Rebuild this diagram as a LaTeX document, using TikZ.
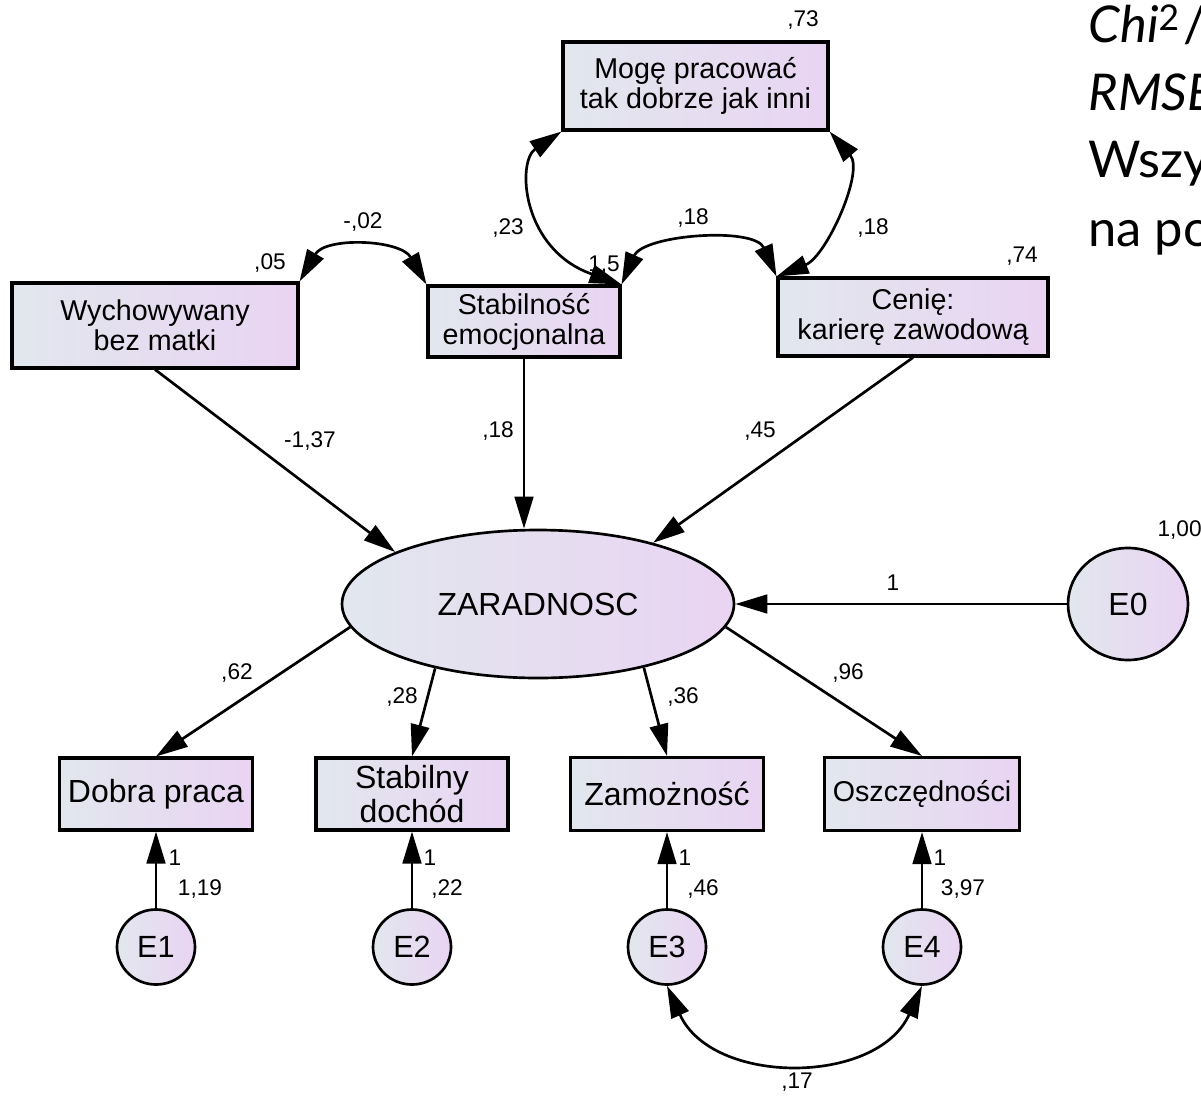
\documentclass[tikz,border=0pt]{standalone}
\usepackage{fontspec}
\setmainfont{Liberation Sans}
\newfontfamily\notefont{Lato}
\usetikzlibrary{shapes.geometric,arrows.meta}

\definecolor{shadeL}{RGB}{226,231,238}
\definecolor{shadeR}{RGB}{233,212,242}

\tikzset{every picture/.style={line width=0.75pt}}
\tikzset{
  obs/.style={draw, line width=2.3pt, rectangle, inner sep=0pt, left color=shadeL, right color=shadeR, align=center, font=\fontsize{21.5}{22.5}\selectfont},
  lat/.style={draw, line width=2pt, ellipse, inner sep=0pt, left color=shadeL, right color=shadeR, font=\fontsize{23}{23}\selectfont},
  num/.style={inner sep=0pt, font=\fontsize{17}{17}\selectfont},
  note/.style={anchor=base west, inner sep=0pt, font=\notefont\fontsize{38}{38}\selectfont},
  reg/.style={line width=2pt, -{Triangle[length=24pt,width=14pt]}},
  cov/.style={line width=2pt, {Triangle[length=24pt,width=14pt]}-{Triangle[length=24pt,width=14pt]}}
}

\begin{document}
\begin{tikzpicture}[x=0.75pt,y=0.75pt,yscale=-1,xscale=1]
\useasboundingbox (0,0) rectangle (1201,1095);
\clip (0,0) rectangle (1201,1095);

%Shape: Rectangle [top row]
\node[obs, minimum width=198.75pt, minimum height=66pt] (moge) at (695.5,86) {Mogę pracować\\tak dobrze jak inni};
\node[obs, minimum width=214.5pt, minimum height=63.75pt] (wych) at (155,325.5) {Wychowywany\\bez matki};
\node[obs, minimum width=144pt, minimum height=53.25pt] (stab) at (524,321.5) {Stabilność\\emocjonalna};
\node[obs, minimum width=202.5pt, minimum height=58.5pt] (cen) at (913,317) {Cenię:\\karierę zawodową};

%Shape: Ellipse [latent + disturbance]
\node[lat, minimum width=294pt, minimum height=111pt, font=\fontsize{24}{24}\selectfont] (zar) at (538,604) {ZARADNOSC};
\node[lat, minimum width=90pt, minimum height=84pt, font=\fontsize{24}{24}\selectfont] (e0) at (1128,604) {E0};

%Shape: Rectangle [indicators]
\node[obs, minimum width=145pt, minimum height=54pt, font=\fontsize{24}{25.5}\selectfont] (dobra) at (156,794) {Dobra praca};
\node[obs, minimum width=144pt, minimum height=54pt, font=\fontsize{24}{25.5}\selectfont] (stabd) at (412,794) {Stabilny\\dochód};
\node[obs, minimum width=145pt, minimum height=54.75pt, font=\fontsize{24}{25.5}\selectfont] (zam) at (667,794) {Zamożność};
\node[obs, minimum width=146.25pt, minimum height=54.75pt] (osz) at (922,794) {Oszczędności};

%Shape: Circle [errors]
\node[lat, minimum width=58.5pt, minimum height=56.25pt] (e1) at (156,947) {E1};
\node[lat, minimum width=58.5pt, minimum height=56.25pt] (e2) at (412,947) {E2};
\node[lat, minimum width=58.5pt, minimum height=56.25pt] (e3) at (667,947) {E3};
\node[lat, minimum width=58.5pt, minimum height=56.25pt] (e4) at (922,947) {E4};

% Text Node
\node[num] (v73) at (803,20) {,73};
\node[num] (v05) at (270,263) {,05};
\node[num] (c02) at (363,222) {-,02};
\node[num] (c23) at (508,228) {,23};
\node[num] (c18a) at (693,218) {,18};
\node[num] (c18b) at (873,228) {,18};
\node[num] (v15) at (604,265) {1,5};
\node[num] (v74) at (1022,256) {,74};
\node[num] (b137) at (310,441) {-1,37};
\node[num] (b18) at (498,431) {,18};
\node[num] (b45) at (760,431) {,45};
\node[num, anchor=west] (v100) at (1157,530) {1,00};
\node[num] (w0) at (893,583) {1};
\node[num] (l62) at (237,673) {,62};
\node[num] (l28) at (402,697) {,28};
\node[num] (l36) at (683,697) {,36};
\node[num] (l96) at (848,673) {,96};
\node[num] (w1) at (175,858) {1};
\node[num] (v119) at (200,889) {1,19};
\node[num] (w2) at (430,858) {1};
\node[num] (v22) at (447,889) {,22};
\node[num] (w3) at (685,858) {1};
\node[num] (v46) at (703,889) {,46};
\node[num] (w4) at (940,858) {1};
\node[num] (v397) at (963,889) {3,97};
\node[num] (c17) at (797,1082) {,17};

% Text Node [fit note]
\node[note] (chi) at (1088,43) {{\itshape Chi}\textsuperscript{2}\kern3pt/};
\node[note] (rmse) at (1088,111) {\itshape RMSE};
\node[note] (wszy) at (1088,177) {Wszy};
\node[note] (napo) at (1088,246) {na po};

%Straight Lines [regressions]
\draw[reg] (wych.south) -- (zar.160);
\draw[reg] (stab.south) -- (stab.south |- zar.north);
\draw[reg] (cen.south) -- (zar.28);
\draw[reg] (e0) -- (zar);
\draw[reg] (zar.187) -- (dobra.north);
\draw[reg] (zar.212) -- (stabd.north);
\draw[reg] (zar.329) -- (zam.north);
\draw[reg] (zar.353) -- (osz.north);
\draw[reg] (e1) -- (dobra);
\draw[reg] (e2) -- (stabd);
\draw[reg] (e3) -- (zam);
\draw[reg] (e4) -- (osz);

%Curve Lines [covariances]
\draw[cov] (wych.north east) .. controls +(26,-45) and +(-26,-45) .. (stab.north west);
\draw[cov] (stab.north east) .. controls +(-100,-35) and +(-45,30) .. (moge.south west);
\draw[cov] (stab.north east) .. controls +(22,-50) and +(-22,-50) .. (cen.north west);
\draw[cov] (moge.south east) .. controls +(35,40) and +(50,-20) .. (cen.north west);
\draw[cov] (e3.south) .. controls +(45,100) and +(-45,100) .. (e4.south);

\end{tikzpicture}
\end{document}
